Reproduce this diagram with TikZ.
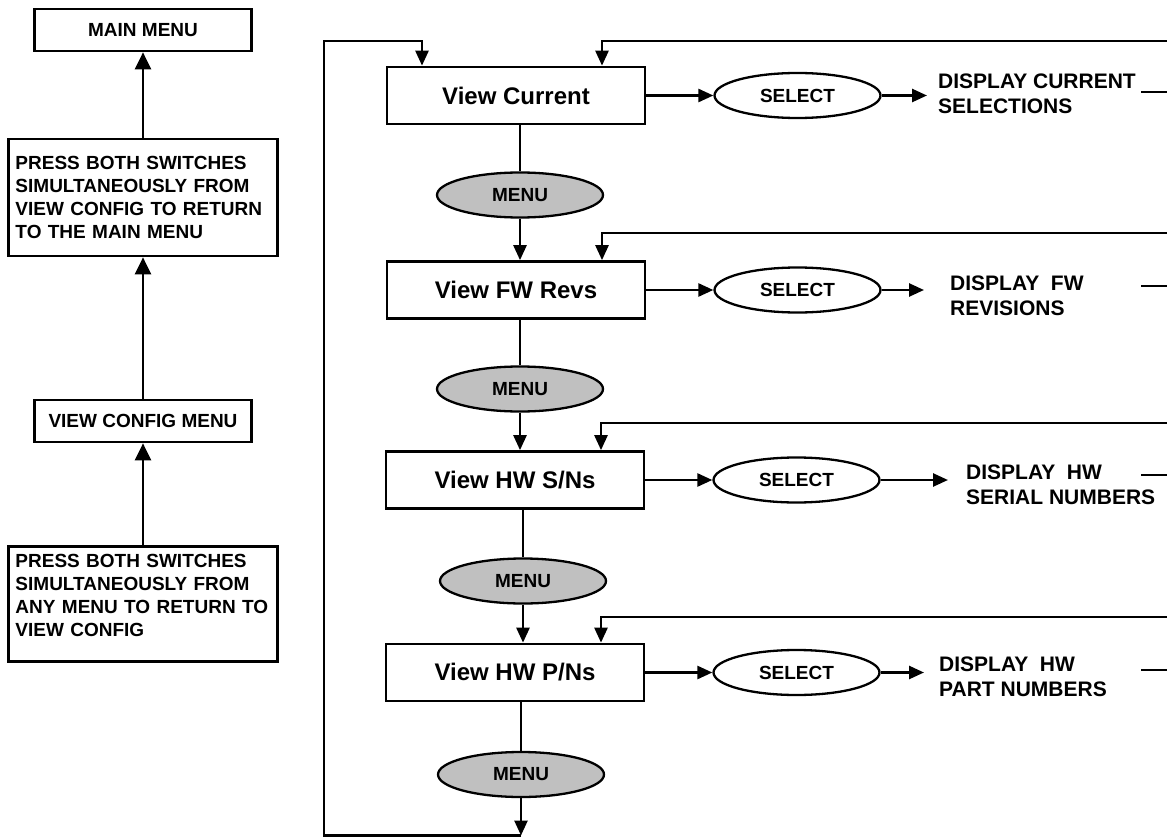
\documentclass[tikz,border=0pt]{standalone}
\usepackage{fontspec}
\setmainfont{Liberation Sans}
\usetikzlibrary{shapes.geometric, arrows.meta, positioning}
\definecolor{menugray}{RGB}{192,192,192}
\tikzset{
  titlebox/.style={
    draw, line width=2.7pt, minimum width=217pt, minimum height=42pt,
    font=\fontsize{19}{23}\selectfont\bfseries
  },
  notebox/.style={
    draw, line width=2.7pt, align=left, text width=255pt,
    inner xsep=7pt, inner ysep=8pt,
    font=\fontsize{19}{23}\selectfont\bfseries
  },
  viewbox/.style={
    draw, line width=2.7pt, minimum width=258pt, minimum height=57pt,
    font=\fontsize{24}{28}\selectfont\bfseries
  },
  keyoval/.style={
    ellipse, draw, line width=2.3pt, minimum width=166pt, minimum height=45pt,
    inner sep=0pt, font=\fontsize{19}{22}\selectfont\bfseries
  },
  menuoval/.style={keyoval, fill=menugray},
  displaylabel/.style={
    anchor=west, align=left, inner sep=0pt,
    font=\fontsize{21}{25}\selectfont\bfseries
  },
  flowline/.style={line width=2.6pt},
  flowarrow/.style={-{Triangle[length=15pt,width=13pt]}, line width=2.6pt},
  bigarrow/.style={-{Triangle[length=17pt,width=16pt]}, line width=2.6pt},
}
\begin{document}
\begin{tikzpicture}[x=1pt, y=-1pt]
  \useasboundingbox (0,0) rectangle (1167,837);

  % ── Left column: way back out ──
  \node[titlebox] (mainmenu) at (143,30) {MAIN MENU};
  \node[notebox, minimum height=117pt] (retmain) at (143,197.5)
    {PRESS BOTH SWITCHES\\SIMULTANEOUSLY FROM\\VIEW CONFIG TO RETURN\\TO THE MAIN MENU};
  \node[titlebox] (cfgmenu) at (143,421) {VIEW CONFIG MENU};
  \node[notebox, anchor=north, text depth=86pt] (retcfg) at (143,545)
    {PRESS BOTH SWITCHES\\SIMULTANEOUSLY FROM\\ANY MENU TO RETURN TO\\VIEW CONFIG};

  \draw[bigarrow] (retmain.north) -- (mainmenu.south);
  \draw[bigarrow] (cfgmenu.north) -- (retmain.south);
  \draw[bigarrow] (retcfg.north) -- (cfgmenu.south);

  % ── View config screens ──
  \node[viewbox] (vcur) at (516,95.5) {View Current};
  \node[viewbox] (vfw)  at (516,290)  {View FW Revs};
  \node[viewbox] (vsn)  at (515,480)  {View HW S/Ns};
  \node[viewbox] (vpn)  at (515,672.5) {View HW P/Ns};

  \node[menuoval] (menuA) at (520,195)   {MENU};
  \node[menuoval] (menuB) at (520,389)   {MENU};
  \node[menuoval] (menuC) at (523,581)   {MENU};
  \node[menuoval] (menuD) at (521,774.5) {MENU};

  \draw[flowline] (vcur.south -| menuA.north) -- (menuA.north);
  \draw[flowarrow] (menuA.south) -- (menuA.south |- vfw.north);
  \draw[flowline] (vfw.south -| menuB.north) -- (menuB.north);
  \draw[flowarrow] (menuB.south) -- (menuB.south |- vsn.north);
  \draw[flowline] (vsn.south -| menuC.north) -- (menuC.north);
  \draw[flowarrow] (menuC.south) -- (menuC.south |- vpn.north);
  \draw[flowline] (vpn.south -| menuD.north) -- (menuD.north);

  % ── Loop back to the first screen ──
  \coordinate (loopbot) at (324,835.5);
  \coordinate (looptop) at (324,41);
  \draw[flowarrow] (menuD.south) -- (menuD.south |- loopbot);
  \draw[flowarrow] (menuD.south |- loopbot) -- (loopbot) -- (looptop)
    -| ([xshift=-94pt]vcur.north);

  % ── SELECT branches ──
  \node[keyoval, right=67pt of vcur] (selA) {SELECT};
  \node[keyoval, right=67pt of vfw]  (selB) {SELECT};
  \node[keyoval, right=67pt of vsn]  (selC) {SELECT};
  \node[keyoval, right=67pt of vpn]  (selD) {SELECT};

  \draw[flowarrow] (vcur) -- (selA);
  \draw[flowarrow] (vfw) -- (selB);
  \draw[flowarrow] (vsn) -- (selC);
  \draw[flowarrow] (vpn) -- (selD);

  \node[displaylabel] (dispA) at (938,94)  {DISPLAY CURRENT\\SELECTIONS};
  \node[displaylabel] (dispB) at (950,296) {DISPLAY\ \ FW\\REVISIONS};
  \node[displaylabel] (dispC) at (966,485) {DISPLAY\ \ HW\\SERIAL NUMBERS};
  \node[displaylabel] (dispD) at (939,677) {DISPLAY\ \ HW\\PART NUMBERS};

  \coordinate (tipA) at (927,95.5);
  \coordinate (tipB) at (924,290);
  \coordinate (tipC) at (948,480);
  \coordinate (tipD) at (924,672.5);
  \draw[flowarrow] (selA.east) -- (tipA);
  \draw[flowarrow] (selB.east) -- (tipB);
  \draw[flowarrow] (selC.east) -- (tipC);
  \draw[flowarrow] (selD.east) -- (tipD);

  % ── Returns from the right edge ──
  \coordinate (feedA) at (1167,41);
  \coordinate (feedB) at (1167,233);
  \coordinate (feedC) at (1167,423);
  \coordinate (feedD) at (1167,617);
  \draw[flowarrow] (feedA) -| ([xshift=86pt]vcur.north);
  \draw[flowarrow] (feedB) -| ([xshift=86pt]vfw.north);
  \draw[flowarrow] (feedC) -| ([xshift=86pt]vsn.north);
  \draw[flowarrow] (feedD) -| ([xshift=86pt]vpn.north);

  \coordinate (dashAs) at (1141,92);  \coordinate (dashAe) at (1167,92);
  \coordinate (dashBs) at (1141,286); \coordinate (dashBe) at (1167,286);
  \coordinate (dashCs) at (1141,475); \coordinate (dashCe) at (1167,475);
  \coordinate (dashDs) at (1141,670); \coordinate (dashDe) at (1167,670);
  \draw[flowline] (dashAs) -- (dashAe);
  \draw[flowline] (dashBs) -- (dashBe);
  \draw[flowline] (dashCs) -- (dashCe);
  \draw[flowline] (dashDs) -- (dashDe);
\end{tikzpicture}
\end{document}
